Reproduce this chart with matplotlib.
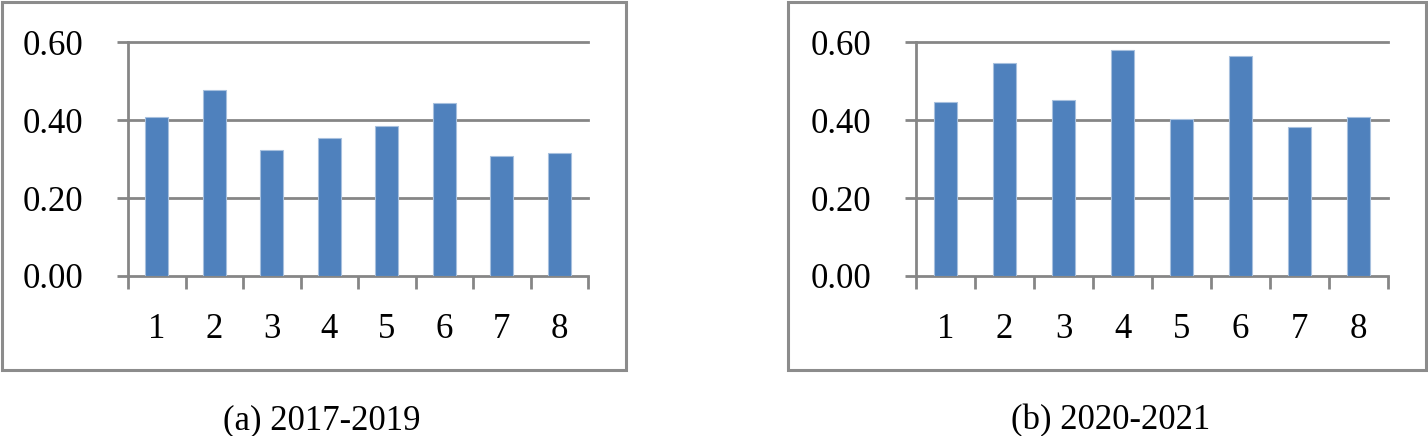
import matplotlib
matplotlib.use("Agg")
import matplotlib.pyplot as plt
from matplotlib.patches import Rectangle
import numpy as np

categories = ["1", "2", "3", "4", "5", "6", "7", "8"]
values_a = [0.407, 0.477, 0.323, 0.355, 0.386, 0.443, 0.308, 0.315]
values_b = [0.446, 0.548, 0.451, 0.581, 0.404, 0.565, 0.382, 0.408]
yticks = [0.0, 0.2, 0.4, 0.6]
ytick_labels = ["0.00", "0.20", "0.40", "0.60"]
captions = ["(a) 2017-2019", "(b) 2020-2021"]

W, H = 1428, 436
plt.rcParams['font.family'] = ['Liberation Serif', 'DejaVu Serif']
fig = plt.figure(figsize=(W / 100, H / 100), dpi=100)

GRAY = "#868686"
BAR = "#4F81BD"

def px_axes(x0, x1, ytop, ybot):
    return fig.add_axes([x0 / W, 1 - ybot / H, (x1 - x0) / W, (ybot - ytop) / H])

panels = [
    (values_a, (128, 588, 42.3, 276)),
    (values_b, (916, 1388, 42.3, 276)),
]

for vals, box in panels:
    ax = px_axes(*box)
    x = np.arange(1, len(categories) + 1)
    ax.bar(x, vals, width=0.4, color=BAR, edgecolor="#A7C0DE", linewidth=0.8, zorder=3)
    ax.set_xlim(0.5, len(categories) + 0.5)
    ax.set_ylim(0, 0.6)
    ax.set_yticks(yticks)
    ax.set_yticklabels(ytick_labels)
    for yv in yticks[1:]:
        ax.axhline(yv, color=GRAY, linewidth=2.0, zorder=1, clip_on=False)
    ax.set_xticks(x)
    ax.set_xticklabels(categories)
    ax.set_xticks(np.arange(0.5, len(categories) + 1, 1.0), minor=True)
    ax.tick_params(axis='x', which='major', length=0, pad=27, labelsize=25)
    ax.tick_params(axis='x', which='minor', length=9, width=2.0, color=GRAY, direction='out')
    ax.tick_params(axis='y', which='major', length=8, width=2.0, color=GRAY, direction='out',
                   pad=24, labelsize=25)
    for s in ['top', 'right']:
        ax.spines[s].set_visible(False)
    for s in ['left', 'bottom']:
        ax.spines[s].set_color(GRAY)
        ax.spines[s].set_linewidth(2.0)
    ax.set_facecolor("none")

# panel frames
for (x0, x1) in [(1.5, 626), (788, 1425.5)]:
    fig.patches.append(Rectangle((x0 / W, 1 - 370 / H), (x1 - x0) / W, (370 - 2.5) / H,
                                 transform=fig.transFigure, fill=False,
                                 edgecolor="#8C8C8C", linewidth=2.2))

for cx, txt in zip([322, 1111], captions):
    fig.text(cx / W, 1 - 421 / H, txt, ha='center', va='center', fontsize=25)

fig.savefig("out.png", dpi=100)
